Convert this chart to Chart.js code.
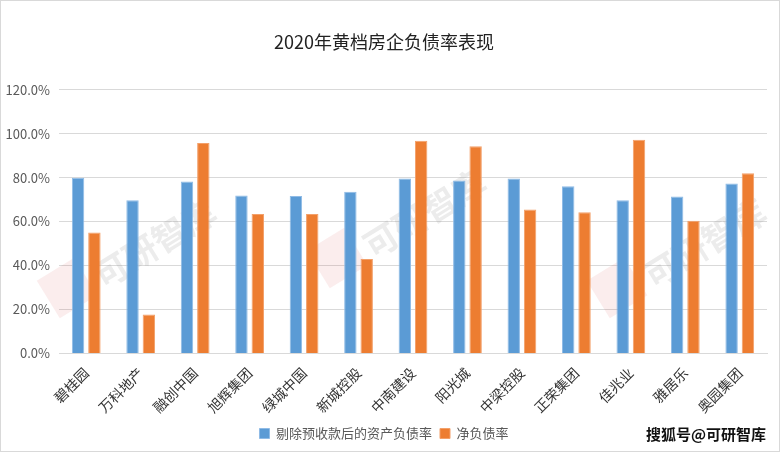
<!DOCTYPE html>
<html>
<head>
<meta charset="utf-8">
<script src="https://cdn.jsdelivr.net/npm/chart.js@4"></script>
<style>
body{margin:0;background:#fff}
#wrap{width:778px;height:450px;border:1px solid #d9d9d9;position:relative}
</style>
</head>
<body>
<div id="wrap"><canvas id="myChart" width="778" height="450"></canvas></div>
<script>
const companies=['碧桂园','万科地产','融创中国','旭辉集团','绿城中国','新城控股','中南建设','阳光城','中梁控股','正荣集团','佳兆业','雅居乐','奥园集团']
const assetRatio=[79.9,69.7,78.2,71.9,71.6,73.5,79.6,78.7,79.6,76.1,69.7,71.4,77.3]
const netRatio=[55.0,17.7,95.7,63.4,63.4,43.0,96.8,94.2,65.5,64.2,97.2,60.4,82.0]
const yTicks=[0,20,40,60,80,100,120]

const font="'Noto Sans CJK SC', 'Noto Sans', sans-serif"

const extras={
  id:'extras',
  beforeDatasetsDraw(chart){
    const c=chart.ctx
    c.save()
    c.font="bold 34px "+font
    ;[[60,300],[330,270],[610,300]].forEach(p=>{
      c.save();c.translate(p[0],p[1]);c.rotate(-0.55)
      c.fillStyle='rgba(220,80,80,0.10)'
      c.fillRect(-10,-30,44,44)
      c.fillStyle='rgba(150,150,150,0.18)'
      c.fillText('可研智库',42,0)
      c.restore()
    })
    c.restore()
  },
  afterDraw(chart){
    const c=chart.ctx
    c.save()
    c.font="bold 15px "+font
    c.fillStyle='#111'
    c.textAlign='right'
    c.textBaseline='middle'
    c.fillText('搜狐号@可研智库',765,433)
    c.restore()
  }
}

new Chart(document.getElementById('myChart'),{
  type:'bar',
  data:{
    labels:companies,
    datasets:[{
      label:'剔除预收款后的资产负债率',
      data:assetRatio,
      backgroundColor:'#5B9BD5',
      borderColor:'#8fbbe6',
      borderWidth:1,
      categoryPercentage:0.6,
      barPercentage:0.76
    },{
      label:'净负债率',
      data:netRatio,
      backgroundColor:'#ED7D31',
      borderColor:'#f3a06a',
      borderWidth:1,
      categoryPercentage:0.6,
      barPercentage:0.76
    }]
  },
  plugins:[extras],
  options:{
    responsive:false,
    animation:false,
    layout:{padding:{left:0,right:12,top:0,bottom:1}},
    plugins:{
      title:{display:true,text:'2020年黄档房企负债率表现',color:'#222',
        font:{family:font,size:18,weight:'normal'},padding:{top:30,bottom:37}},
      legend:{position:'bottom',
        labels:{boxWidth:10,boxHeight:10,color:'#595959',font:{family:font,size:13},padding:8}},
      tooltip:{enabled:false}
    },
    scales:{
      x:{
        grid:{display:false},
        border:{color:'#d9d9d9'},
        ticks:{color:'#333',font:{family:font,size:14},minRotation:45,maxRotation:45,padding:3}
      },
      y:{
        min:0,max:120,
        afterFit(s){s.width=58},
        afterBuildTicks(s){s.ticks=yTicks.map(v=>({value:v}))},
        grid:{color:'#d9d9d9',lineWidth:1,drawTicks:false},
        border:{display:false},
        ticks:{color:'#595959',font:{family:font,size:13},padding:9,callback:v=>v.toFixed(1)+'%'}
      }
    }
  }
})
</script>
</body>
</html>
